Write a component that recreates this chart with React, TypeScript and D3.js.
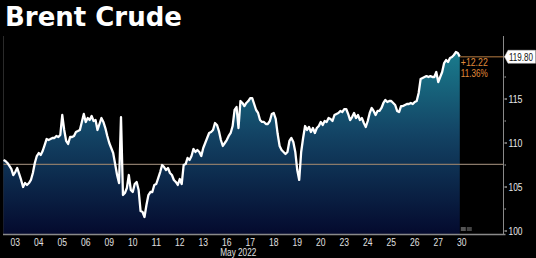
import React from "react";
import * as d3 from "d3";

const TITLE = "Brent Crude";
const DAY_LABELS = ["03", "04", "05", "06", "09", "10", "11", "12", "13", "16", "17", "18", "19", "20", "23", "24", "25", "26", "27", "30"];
const MONTH_LABEL = "May 2022";
const SAMPLES_PER_DAY = 12;
const Y_TICKS = [100, 105, 110, 115];
const Y_MINOR = [102.5, 107.5, 112.5, 117.5];
const PREV_CLOSE = 107.58;
const LAST_LABEL = "119.80";
const CHANGE_LABEL = "+12.22";
const PCT_LABEL = "11.36%";

// intraday prices, 12 samples per trading day
const prices: number[] = [
  108.07, 107.95, 107.73, 107.39, 107.05, 106.36, 106.70, 107.16, 106.48, 105.80, 105.00, 105.45,
  105.23, 105.45, 105.80, 106.59, 107.73, 108.52, 108.86, 108.64, 109.09, 109.77, 110.45, 110.34,
  110.45, 110.57, 110.57, 110.80, 110.68, 110.91, 113.18, 111.48, 110.23, 109.89, 110.68, 110.68,
  110.80, 111.25, 111.36, 111.48, 112.39, 113.30, 112.39, 112.84, 112.61, 113.07, 112.50, 112.61,
  111.48, 112.16, 112.84, 112.39, 111.70, 110.80, 110.00, 109.43, 108.86, 107.61, 106.36, 105.45,
  112.95, 104.09, 104.32, 104.89, 106.36, 104.66, 104.43, 105.34, 105.57, 104.66, 102.27, 102.16,
  101.59, 102.95, 104.09, 104.43, 104.43, 105.23, 105.34, 106.02, 106.70, 107.50, 107.27, 106.93,
  107.16, 106.59, 106.36, 105.80, 105.57, 105.23, 105.91, 105.34, 107.50, 107.61, 108.30, 108.07,
  108.52, 109.32, 108.98, 109.20, 108.98, 108.52, 109.43, 110.00, 110.57, 111.14, 111.25, 111.48,
  112.27, 112.05, 111.36, 110.34, 109.66, 110.00, 110.34, 110.80, 111.14, 111.93, 113.75, 114.09,
  111.70, 114.77, 114.55, 114.20, 114.55, 114.77, 115.11, 115.11, 114.43, 113.75, 113.41, 112.61,
  112.39, 112.39, 112.16, 112.16, 112.50, 113.30, 113.41, 112.73, 111.02, 109.66, 109.20, 108.98,
  108.75, 108.98, 110.23, 110.57, 110.11, 108.98, 106.93, 105.80, 108.98, 110.57, 111.93, 111.48,
  111.82, 111.25, 111.70, 111.14, 111.70, 111.93, 112.39, 112.05, 112.50, 112.39, 112.84, 112.73,
  112.50, 113.18, 113.30, 113.41, 113.64, 113.52, 113.86, 113.86, 113.30, 112.61, 112.95, 113.41,
  112.84, 113.18, 112.61, 112.84, 112.27, 111.82, 112.50, 113.41, 113.98, 113.64, 113.18, 113.64,
  113.64, 113.98, 114.55, 114.89, 114.66, 114.77, 114.77, 114.55, 114.32, 113.64, 113.52, 114.20,
  114.20, 114.32, 114.43, 114.43, 114.55, 114.43, 114.66, 114.77, 115.68, 117.27, 117.39, 117.50,
  117.61, 117.50, 117.61, 117.50, 117.50, 118.07, 116.93, 117.50, 118.07, 119.09, 119.43, 119.20,
  119.66, 119.77, 120.00, 120.34, 120.23, 119.80,
];

const W = 536;
const H = 258;
const PLOT_LEFT = 3.5;
const PLOT_RIGHT = 503.5;
const PLOT_TOP = 36;
const PLOT_BOTTOM = 234;
const LABEL_FONT = "'Liberation Sans', Arial, sans-serif";

export default function App() {
  const x = d3
    .scaleLinear()
    .domain([0, DAY_LABELS.length * SAMPLES_PER_DAY])
    .range([PLOT_LEFT, PLOT_LEFT + 23.5 * DAY_LABELS.length]);
  const y = d3.scaleLinear().domain([100, 120]).range([231, 55]);

  const area = d3
    .area<number>()
    .x((_, i) => x(i))
    .y0(PLOT_BOTTOM)
    .y1((d) => y(d));
  const line = d3
    .line<number>()
    .x((_, i) => x(i))
    .y((d) => y(d));

  const lastIdx = prices.length - 1;
  const lastX = x(lastIdx);
  const lastY = y(prices[lastIdx]);

  const dayX = (k: number) => x((k + 0.5) * SAMPLES_PER_DAY);
  const idx17 = DAY_LABELS.indexOf("17");

  return (
    <div style={{ position: "fixed", left: 0, top: 0, width: W, height: H, background: "#000" }}>
      <svg width={W} height={H} style={{ display: "block" }}>
        <defs>
          <linearGradient id="areaGrad" gradientUnits="userSpaceOnUse" x1="0" y1="50" x2="0" y2={PLOT_BOTTOM}>
            <stop offset="0%" stopColor="#1a7d8e" />
            <stop offset="45%" stopColor="#134465" />
            <stop offset="100%" stopColor="#040a2e" />
          </linearGradient>
        </defs>
        <rect x={0} y={0} width={W} height={H} fill="#000" />
        <text x={5} y={26} fill="#fff" fontFamily="'DejaVu Sans', Verdana, sans-serif" fontWeight="bold" fontSize={26}>
          {TITLE}
        </text>

        {/* left border */}
        <line x1={PLOT_LEFT} x2={PLOT_LEFT} y1={PLOT_TOP} y2={PLOT_BOTTOM} stroke="#2a2a2a" strokeWidth={1} />

        <path d={area(prices) || ""} fill="url(#areaGrad)" />

        {/* previous close reference line */}
        <line x1={PLOT_LEFT} x2={PLOT_RIGHT} y1={y(PREV_CLOSE)} y2={y(PREV_CLOSE)} stroke="#8a7a6a" strokeWidth={1.2} />

        <path d={line(prices) || ""} fill="none" stroke="#fff" strokeWidth={2.3} strokeLinejoin="round" />

        {/* last value leader */}
        <line x1={lastX} x2={PLOT_RIGHT + 2} y1={lastY} y2={lastY} stroke="#7a532c" strokeWidth={1.5} />
        <text x={lastX + 1} y={lastY + 9} fill="#e08b3a" fontFamily={LABEL_FONT} fontSize={10} textLength={27} lengthAdjust="spacingAndGlyphs">
          {CHANGE_LABEL}
        </text>
        <text x={lastX + 1} y={lastY + 20} fill="#e08b3a" fontFamily={LABEL_FONT} fontSize={10} textLength={27} lengthAdjust="spacingAndGlyphs">
          {PCT_LABEL}
        </text>

        {/* right axis */}
        <line x1={PLOT_RIGHT} x2={PLOT_RIGHT} y1={PLOT_TOP} y2={PLOT_BOTTOM} stroke="#8a8a8a" strokeWidth={1} />
        {Y_TICKS.map((t) => (
          <g key={t}>
            <line x1={PLOT_RIGHT + 1} x2={PLOT_RIGHT + 3.5} y1={y(t)} y2={y(t)} stroke="#ddd" strokeWidth={1} />
            <text x={PLOT_RIGHT + 5} y={y(t) + 3.5} fill="#e8e8e8" fontFamily={LABEL_FONT} fontSize={10.5} textLength={14} lengthAdjust="spacingAndGlyphs">
              {t}
            </text>
          </g>
        ))}
        {Y_MINOR.map((t) => (
          <line key={t} x1={PLOT_RIGHT + 1} x2={PLOT_RIGHT + 2.5} y1={y(t)} y2={y(t)} stroke="#aaa" strokeWidth={1} />
        ))}

        {/* last value badge */}
        <path
          d={`M${PLOT_RIGHT + 1},${lastY} L${PLOT_RIGHT + 4.5},${lastY - 6.5} L${W - 0.5},${lastY - 6.5} L${W - 0.5},${lastY + 6.5} L${PLOT_RIGHT + 4.5},${lastY + 6.5} Z`}
          fill="#fff"
          stroke="#ccc"
          strokeWidth={0.5}
        />
        <text
          x={PLOT_RIGHT + 5.5}
          y={lastY + 3.8}
          fill="#111"
          fontFamily={LABEL_FONT}
          fontSize={10.5}
          textLength={24}
          lengthAdjust="spacingAndGlyphs"
        >
          {LAST_LABEL}
        </text>

        {/* small icon */}
        <rect x={x(lastIdx) + 1} y={227} width={5} height={4} fill="#555" />
        <rect x={x(lastIdx) + 7} y={227} width={5} height={4} fill="#444" />

        {/* bottom axis */}
        <line x1={PLOT_LEFT - 0.5} x2={PLOT_RIGHT + 2} y1={PLOT_BOTTOM + 0.5} y2={PLOT_BOTTOM + 0.5} stroke="#8a8a8a" strokeWidth={1.5} />
        {DAY_LABELS.map((lab, k) => (
          <text
            key={lab}
            x={dayX(k)}
            y={245.5}
            textAnchor="middle"
            fill="#e0e0e0"
            fontFamily={LABEL_FONT}
            fontSize={10}
            textLength={9.5}
            lengthAdjust="spacingAndGlyphs"
          >
            {lab}
          </text>
        ))}
        <text
          x={dayX(idx17) - 12}
          y={256}
          textAnchor="middle"
          fill="#e0e0e0"
          fontFamily={LABEL_FONT}
          fontSize={10}
          textLength={36}
          lengthAdjust="spacingAndGlyphs"
        >
          {MONTH_LABEL}
        </text>
      </svg>
    </div>
  );
}
